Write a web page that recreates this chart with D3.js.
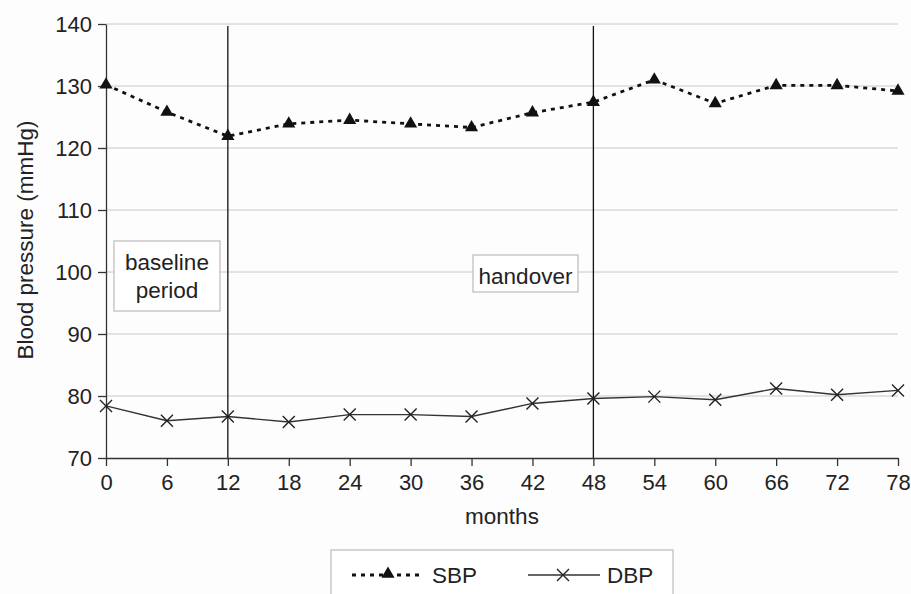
<!DOCTYPE html>
<html lang="en">
<head>
<meta charset="UTF-8">
<title>Blood pressure over months</title>
<script src="https://d3js.org/d3.v7.min.js"></script>
<style>
  body { margin: 0; background: #fdfdfd; font-family: "Liberation Sans", Arial, sans-serif; }
  svg { display: block; }
  .grid line { stroke: #c8c8c8; stroke-width: 1; }
  .axis path, .axis line { stroke: #333; stroke-width: 1.3; }
  .axis text { font-size: 22px; fill: #222; font-family: "Liberation Sans", Arial, sans-serif; }
  .lbl { font-size: 22.5px; fill: #222; }
</style>
</head>
<body>
<svg width="911" height="594"></svg>
<script>
const months = [0, 6, 12, 18, 24, 30, 36, 42, 48, 54, 60, 66, 72, 78];
const sbp = [130.2, 125.8, 121.9, 123.9, 124.5, 123.9, 123.3, 125.7, 127.4, 131.0, 127.2, 130.1, 130.1, 129.2];
const dbp = [78.4, 76.0, 76.7, 75.8, 77.0, 77.0, 76.7, 78.8, 79.6, 79.9, 79.4, 81.2, 80.2, 80.9];
const yTicks = [70, 80, 90, 100, 110, 120, 130, 140];
const markers = [12, 48];

const svg = d3.select("svg");
const m = { left: 106, right: 898, top: 24, bottom: 458 };

const x = d3.scaleLinear().domain([0, 78]).range([m.left, m.right]);
const y = d3.scaleLinear().domain([70, 140]).range([m.bottom, m.top]);

// gridlines
svg.append("g").attr("class", "grid")
  .selectAll("line").data(yTicks.slice(1)).join("line")
  .attr("x1", m.left).attr("x2", m.right)
  .attr("y1", d => y(d)).attr("y2", d => y(d));

// period boxes
function labelBox(x0, y0, w, h, lines) {
  const g = svg.append("g");
  g.append("rect").attr("x", x0).attr("y", y0).attr("width", w).attr("height", h)
    .attr("fill", "#fff").attr("stroke", "#bbb").attr("stroke-width", 1.2);
  lines.forEach((t, i) => {
    g.append("text").attr("class", "lbl").attr("text-anchor", "middle")
      .attr("x", x0 + w / 2).attr("y", y0 + 29 + i * 28).text(t);
  });
}
labelBox(114, 241, 106, 70, ["baseline", "period"]);
labelBox(473, 255, 105, 37, ["handover"]);

// vertical marker lines
svg.append("g").selectAll("line").data(markers).join("line")
  .attr("x1", d => x(d)).attr("x2", d => x(d))
  .attr("y1", 26).attr("y2", m.bottom)
  .attr("stroke", "#111").attr("stroke-width", 1.3);

// axes
svg.append("g").attr("class", "axis")
  .attr("transform", `translate(${m.left},0)`)
  .call(d3.axisLeft(y).tickValues(yTicks).tickSize(8).tickPadding(6).tickSizeOuter(0));
svg.append("g").attr("class", "axis")
  .attr("transform", `translate(0,${m.bottom})`)
  .call(d3.axisBottom(x).tickValues(months).tickSize(8).tickPadding(8).tickSizeOuter(0));

// axis titles
svg.append("text").attr("class", "lbl").attr("text-anchor", "middle")
  .attr("transform", "translate(33,240) rotate(-90)").text("Blood pressure (mmHg)");
svg.append("text").attr("class", "lbl").attr("text-anchor", "middle")
  .attr("x", 502).attr("y", 524).text("months");

const line = d3.line().x((d, i) => x(months[i])).y(d => y(d));

// DBP
svg.append("path").datum(dbp).attr("d", line)
  .attr("fill", "none").attr("stroke", "#333").attr("stroke-width", 1.4);
function cross(sel, cx, cy) {
  sel.append("path")
    .attr("d", `M${cx - 6},${cy - 6}L${cx + 6},${cy + 6}M${cx - 6},${cy + 6}L${cx + 6},${cy - 6}`)
    .attr("stroke", "#222").attr("stroke-width", 1.4).attr("fill", "none");
}
const dg = svg.append("g");
dbp.forEach((v, i) => cross(dg, x(months[i]), y(v)));

// SBP
svg.append("path").datum(sbp).attr("d", line)
  .attr("fill", "none").attr("stroke", "#111").attr("stroke-width", 2.8)
  .attr("stroke-dasharray", "4 5");
const tri = d3.symbol().type(d3.symbolTriangle).size(75);
svg.append("g").selectAll("path").data(sbp).join("path")
  .attr("transform", (d, i) => `translate(${x(months[i])},${y(d)})`)
  .attr("d", tri).attr("fill", "#111");

// legend
const lg = svg.append("g");
lg.append("rect").attr("x", 331).attr("y", 550).attr("width", 342).attr("height", 60)
  .attr("fill", "#fff").attr("stroke", "#bbb").attr("stroke-width", 1.2);
lg.append("line").attr("x1", 352).attr("x2", 424).attr("y1", 575).attr("y2", 575)
  .attr("stroke", "#111").attr("stroke-width", 2.8).attr("stroke-dasharray", "4 5");
lg.append("path").attr("transform", "translate(388,574)").attr("d", tri).attr("fill", "#111");
lg.append("text").attr("class", "lbl").attr("x", 432).attr("y", 583).text("SBP");
lg.append("line").attr("x1", 528).attr("x2", 600).attr("y1", 575).attr("y2", 575)
  .attr("stroke", "#333").attr("stroke-width", 1.4);
cross(lg, 563, 575);
lg.append("text").attr("class", "lbl").attr("x", 607).attr("y", 583).text("DBP");
</script>
</body>
</html>
